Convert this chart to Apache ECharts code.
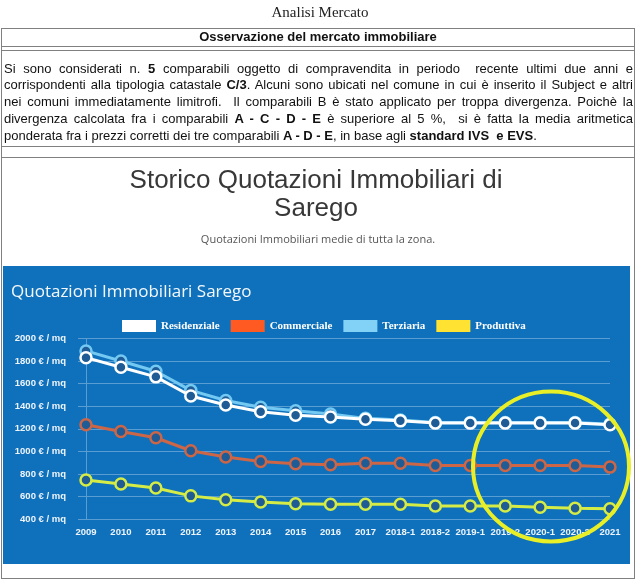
<!DOCTYPE html>
<html>
<head>
<meta charset="utf-8">
<script src="https://cdn.jsdelivr.net/npm/echarts@6/dist/echarts.min.js"></script>
<style>
  html, body { margin:0; padding:0; background:#fff; }
  #page { position:relative; width:640px; height:584px; overflow:hidden; }
  #chart { position:absolute; left:0; top:0; width:640px; height:584px; z-index:0; }
  .abs { position:absolute; z-index:1; pointer-events:none; }
  .hl { position:absolute; z-index:1; height:1px; background:#808080; left:1px; width:634px; }
  #heading { left:0; width:640px; top:3px; text-align:center; font-family:'Liberation Serif','Times New Roman',serif; font-size:15px; color:#222; line-height:18px; }
  #box { left:1px; top:28px; width:632px; height:549px; border:1px solid #808080; }
  #hdr { left:1px; width:634px; top:28px; height:18px; line-height:18px; text-align:center; font-family:'Liberation Sans',Arial,sans-serif; font-weight:bold; font-size:13px; color:#111; }
  #para { left:4px; width:629px; top:60.5px; font-family:'Liberation Sans',Arial,sans-serif; font-size:13px; line-height:16.9px; color:#111; }
  #para .ln { text-align:justify; text-align-last:justify; }
  #para .last { text-align:left; }
</style>
</head>
<body>
<div id="page">
  <div id="chart"></div>
  <div id="heading" class="abs">Analisi Mercato</div>
  <div id="box" class="abs"></div>
  <div class="hl" style="top:46px"></div>
  <div class="hl" style="top:50px"></div>
  <div class="hl" style="top:146px"></div>
  <div class="hl" style="top:157px"></div>
  <div id="hdr" class="abs">Osservazione del mercato immobiliare</div>
  <div id="para" class="abs">
    <div class="ln">Si sono considerati n. <b>5</b> comparabili oggetto di compravendita in periodo &nbsp;recente ultimi due anni e</div>
    <div class="ln">corrispondenti alla tipologia catastale <b>C/3</b>. Alcuni sono ubicati nel comune in cui è inserito il Subject e altri</div>
    <div class="ln">nei comuni immediatamente limitrofi. &nbsp;Il comparabili B è stato applicato per troppa divergenza. Poichè la</div>
    <div class="ln">divergenza calcolata fra i comparabili <b>A - C - D - E</b> è superiore al 5 %, &nbsp;si è fatta la media aritmetica</div>
    <div class="last">ponderata fra i prezzi corretti dei tre comparabili <b>A - D - E</b>, in base agli <b>standard IVS &nbsp;e EVS</b>.</div>
  </div>
</div>
<script>
const categories = ['2009','2010','2011','2012','2013','2014','2015','2016','2017','2018-1','2018-2','2019-1','2019-2','2020-1','2020-2','2021'];
const residenziale = [1830,1745,1660,1490,1410,1350,1320,1305,1285,1270,1250,1250,1250,1250,1250,1235];
const commerciale  = [1235,1175,1120,1005,950,910,890,880,895,895,875,875,875,875,875,860];
const terziaria    = [1890,1800,1710,1540,1450,1390,1360,1330,1292,1277,1256,1256,1256,1256,1256,1241];
const produttiva   = [745,710,675,605,570,550,535,530,530,530,515,515,515,505,495,490];
const yMin = 400, yMax = 2000, yStep = 200;

const gridLine = '#5a9dd3';
const markerFill = '#1f5c96';

function mkSeries(name, data, lineColor, z) {
  return {
    name: name, type: 'line', data: data, z: z,
    symbol: 'circle', symbolSize: 11,
    lineStyle: { color: lineColor, width: 3 },
    itemStyle: { color: markerFill, borderColor: lineColor, borderWidth: 2.5 },
    emphasis: { disabled: true },
    animation: false
  };
}

const chart = echarts.init(document.getElementById('chart'), null, { renderer: 'canvas' });
chart.setOption({
  animation: false,
  title: [
    { text: 'Storico Quotazioni Immobiliari di\nSarego', left: 316, top: 167, textAlign: 'center', padding: 0,
      textStyle: { fontFamily: 'Liberation Sans', fontSize: 26, fontWeight: 'normal', color: '#383838', lineHeight: 28 } },
    { text: 'Quotazioni Immobiliari medie di tutta la zona.', left: 318, top: 233, textAlign: 'center', padding: 0,
      textStyle: { fontFamily: 'Open Sans', fontSize: 11, fontWeight: 'normal', color: '#555', lineHeight: 14 } },
    { text: 'Quotazioni Immobiliari Sarego', left: 11, top: 281, padding: 0,
      textStyle: { fontFamily: 'Open Sans', fontSize: 17, fontWeight: 'normal', color: '#f4f8fc', lineHeight: 22 } }
  ],
  graphic: [
    { type: 'rect', z: -10, shape: { x: 3, y: 266, width: 627, height: 298 }, style: { fill: '#0f71bb' }, silent: true },
    { type: 'ellipse', z: 100, shape: { cx: 551, cy: 466.5, rx: 78, ry: 75 }, style: { fill: 'none', stroke: '#e8ef26', lineWidth: 4 }, silent: true }
  ],
  legend: {
    left: 122, top: 320, padding: 0, itemWidth: 34, itemHeight: 12, itemGap: 11, icon: 'rect',
    selectedMode: false,
    textStyle: { color: '#fff', fontFamily: 'Liberation Serif', fontSize: 11, fontWeight: 'bold' },
    data: [
      { name: 'Residenziale', itemStyle: { color: '#ffffff', borderWidth: 0 } },
      { name: 'Commerciale', itemStyle: { color: '#ff5a22', borderWidth: 0 } },
      { name: 'Terziaria', itemStyle: { color: '#82d2f8', borderWidth: 0 } },
      { name: 'Produttiva', itemStyle: { color: '#ffe232', borderWidth: 0 } }
    ]
  },
  grid: { left: 86, right: 30, top: 338.5, bottom: 65 },
  xAxis: {
    type: 'category', data: categories, boundaryGap: false,
    axisLine: { show: true, lineStyle: { color: gridLine, width: 1 } },
    axisTick: { show: false },
    axisLabel: { interval: 0, color: '#eef4fb', fontFamily: 'Liberation Sans', fontWeight: 'bold', fontSize: 9.5, margin: 8 },
    splitLine: { show: false }
  },
  yAxis: {
    type: 'value', min: yMin, max: yMax, interval: yStep,
    axisLine: { show: true, lineStyle: { color: gridLine, width: 1 } },
    axisTick: { show: true, length: 8, lineStyle: { color: gridLine } },
    axisLabel: { formatter: function (v) { return String(v) + ' € / mq'; }, color: '#eef4fb', fontFamily: 'Liberation Sans', fontWeight: 'bold', fontSize: 9.5, margin: 20 },
    splitLine: { show: true, lineStyle: { color: gridLine, width: 1 } }
  },
  series: [
    mkSeries('Residenziale', residenziale, '#ffffff', 6),
    mkSeries('Commerciale', commerciale, '#cc6647', 4),
    mkSeries('Terziaria', terziaria, '#74c9f3', 5),
    mkSeries('Produttiva', produttiva, '#d6ec46', 4)
  ]
});
</script>
</body>
</html>
